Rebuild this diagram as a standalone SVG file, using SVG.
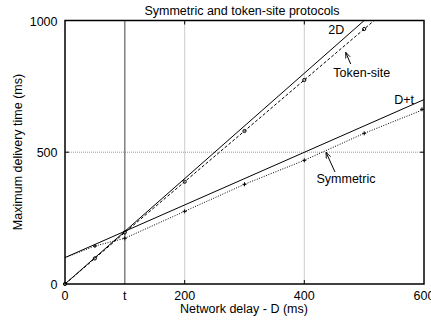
<svg xmlns="http://www.w3.org/2000/svg" width="431" height="320" viewBox="0 0 431 320">
  <style>
    text { font-family: "Liberation Sans", Arial, sans-serif; font-size: 12.5px; fill: #000; }
    .grid { stroke: #999; stroke-width: 1; stroke-dasharray: 1 1; fill: none; }
    .frame { stroke: #000; stroke-width: 1.5; fill: none; }
    .tick { stroke: #000; stroke-width: 1; }
    .tline { stroke: #808080; stroke-width: 1.5; }
    .solid { stroke: #000; stroke-width: 1; fill: none; }
    .dashed { stroke: #000; stroke-width: 1; stroke-dasharray: 3 2; fill: none; }
    .dotted { stroke: #000; stroke-width: 1; stroke-dasharray: 1 1.5; fill: none; }
    .pt { stroke: #000; stroke-width: 1; fill: none; }
    .ptc { stroke: #000; stroke-width: 1; fill: none; }
    .ptr { stroke: #000; stroke-width: 1; fill: none; marker-end: url(#head); }
    .end { text-anchor: end; }
    .mid { text-anchor: middle; }
  </style>
  <defs>
    <clipPath id="plotArea">
      <rect x="65" y="20.5" width="359" height="263.5"/>
    </clipPath>
    <marker id="head" viewBox="0 0 10 10" refX="10" refY="5" markerWidth="6" markerHeight="6" orient="auto" markerUnits="userSpaceOnUse">
      <path d="M0,1 L10,5 L0,9" fill="none" stroke="#000" stroke-width="1.4"/>
    </marker>
    <path id="plus" d="M-2,0 H2 M0,-2 V2" class="pt"/>
    <circle id="ring" r="1.6" class="ptc"/>
  </defs>

  <!-- title -->
  <text x="242" y="14.5" class="mid">Symmetric and token-site protocols</text>

  <!-- grid -->
  <g id="grid">
    <line class="grid" x1="184.7" y1="20.5" x2="184.7" y2="284"/>
    <line class="grid" x1="304.3" y1="20.5" x2="304.3" y2="284"/>
    <line class="grid" x1="65" y1="152.2" x2="424" y2="152.2"/>
  </g>

  <!-- t marker line -->
  <line id="t-line" class="tline" x1="124.8" y1="20.5" x2="124.8" y2="284"/>

  <!-- curves -->
  <g id="connectors" clip-path="url(#plotArea)">
    <line id="curve-2D" class="solid" x1="65" y1="284" x2="364.2" y2="20.5"/>
    <line id="curve-Dt" class="solid" x1="65" y1="257.6" x2="424" y2="99.6"/>
    <polyline id="curve-token" class="dashed" points="65,284 94.9,258.4 124.8,232.5 184.7,181.7 244.5,131 304.3,80 364.2,29 374.2,20.5"/>
    <polyline id="curve-sym" class="dotted" points="65,257.6 95,246 124.8,238.3 184.7,211.3 244.5,184.3 304.3,160.3 364.2,133.3 424,109.3"/>
  </g>

  <!-- data points -->
  <g id="token-points">
    <use href="#ring" x="65" y="284"/>
    <use href="#ring" x="94.9" y="258.4"/>
    <use href="#ring" x="124.8" y="232.5"/>
    <use href="#ring" x="184.7" y="181.7"/>
    <use href="#ring" x="244.5" y="131"/>
    <use href="#ring" x="304.3" y="80"/>
    <use href="#ring" x="364.2" y="29"/>
  </g>
  <g id="sym-points">
    <use href="#plus" x="95" y="246"/>
    <use href="#plus" x="124.8" y="238.3"/>
    <use href="#plus" x="184.7" y="211.3"/>
    <use href="#plus" x="244.5" y="184.3"/>
    <use href="#plus" x="304.3" y="160.3"/>
    <use href="#plus" x="364.2" y="133.3"/>
    <use href="#plus" x="422" y="109.3"/>
  </g>

  <!-- frame and ticks -->
  <g id="axes">
    <rect class="frame" x="65" y="20.5" width="359" height="263.5"/>
    <line class="tick" x1="184.7" y1="20.5" x2="184.7" y2="24.5"/>
    <line class="tick" x1="304.3" y1="20.5" x2="304.3" y2="24.5"/>
    <line class="tick" x1="184.7" y1="284" x2="184.7" y2="280"/>
    <line class="tick" x1="304.3" y1="284" x2="304.3" y2="280"/>
    <line class="tick" x1="65" y1="152.2" x2="69" y2="152.2"/>
    <line class="tick" x1="424" y1="152.2" x2="420" y2="152.2"/>
  </g>

  <!-- tick labels -->
  <g id="y-labels">
    <text x="57.5" y="26" class="end">1000</text>
    <text x="57.5" y="156.7" class="end">500</text>
    <text x="57.5" y="288.5" class="end">0</text>
  </g>
  <g id="x-labels">
    <text x="65" y="300" class="mid">0</text>
    <text x="124.8" y="300" class="mid">t</text>
    <text x="184.7" y="300" class="mid">200</text>
    <text x="304.3" y="300" class="mid">400</text>
    <!-- the last label runs past the right edge of the canvas -->
    <text x="424" y="300" class="mid">600</text>
  </g>

  <!-- axis titles -->
  <text x="244" y="313" class="mid">Network delay - D (ms)</text>
  <text transform="translate(21.5,152) rotate(-90)" class="mid">Maximum delivery time (ms)</text>

  <!-- curve labels -->
  <g id="label-2D"><text x="328.3" y="34.3">2D</text></g>
  <g id="label-token">
    <text x="333.3" y="76.7">Token-site</text>
    <line class="ptr" x1="350.7" y1="64" x2="345.7" y2="52.3"/>
  </g>
  <g id="label-Dt"><text x="394.3" y="103.5">D+t</text></g>
  <g id="label-sym">
    <text x="316.5" y="182.5">Symmetric</text>
    <line class="ptr" x1="335" y1="172" x2="326" y2="152.3"/>
  </g>
</svg>
